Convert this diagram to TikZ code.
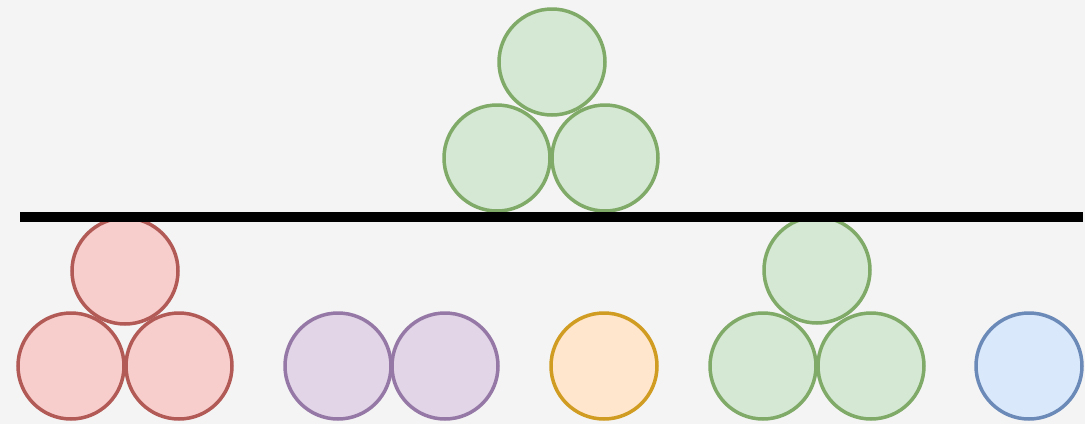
\documentclass[tikz,border=0pt]{standalone}
\definecolor{bg}{HTML}{F4F4F4}
\definecolor{gfill}{HTML}{D5E8D4}\definecolor{gline}{HTML}{7FAA68}
\definecolor{rfill}{HTML}{F8CECC}\definecolor{rline}{HTML}{B25A56}
\definecolor{pfill}{HTML}{E1D5E7}\definecolor{pline}{HTML}{9678A6}
\definecolor{ofill}{HTML}{FFE6CC}\definecolor{oline}{HTML}{D09C22}
\definecolor{bfill}{HTML}{DAE8FC}\definecolor{bline}{HTML}{6C8AB8}
\begin{document}
\begin{tikzpicture}[x=1pt,y=-1pt,
  ball/.style={circle,minimum size=106pt,inner sep=0pt,line width=3.5pt},
  gball/.style={ball,draw=gline,fill=gfill},
  rball/.style={ball,draw=rline,fill=rfill},
  pball/.style={ball,draw=pline,fill=pfill},
  oball/.style={ball,draw=oline,fill=ofill},
  bball/.style={ball,draw=bline,fill=bfill}]
\fill[bg] (0,0) rectangle (1085,424);
\useasboundingbox (0,0) rectangle (1085,424);
% top group
\node[gball] (t1) at (552,62) {};
\node[gball] (t2) at (497,158) {};
\node[gball] (t3) at (605,158) {};
% red group
\node[rball] (r1) at (125,271) {};
\node[rball] (r2) at (71,366) {};
\node[rball] (r3) at (179,366) {};
% purple
\node[pball] (p1) at (338,366) {};
\node[pball] (p2) at (445,366) {};
% orange
\node[oball] (o1) at (604,366) {};
% green group 2
\node[gball] (g1) at (817,270) {};
\node[gball] (g2) at (763,366) {};
\node[gball] (g3) at (871,366) {};
% blue
\node[bball] (b1) at (1029,366) {};
% line
\coordinate (la) at (20,217);
\coordinate (lb) at (1083,217);
\draw[line width=10.5pt] (la) -- (lb);
\end{tikzpicture}
\end{document}
